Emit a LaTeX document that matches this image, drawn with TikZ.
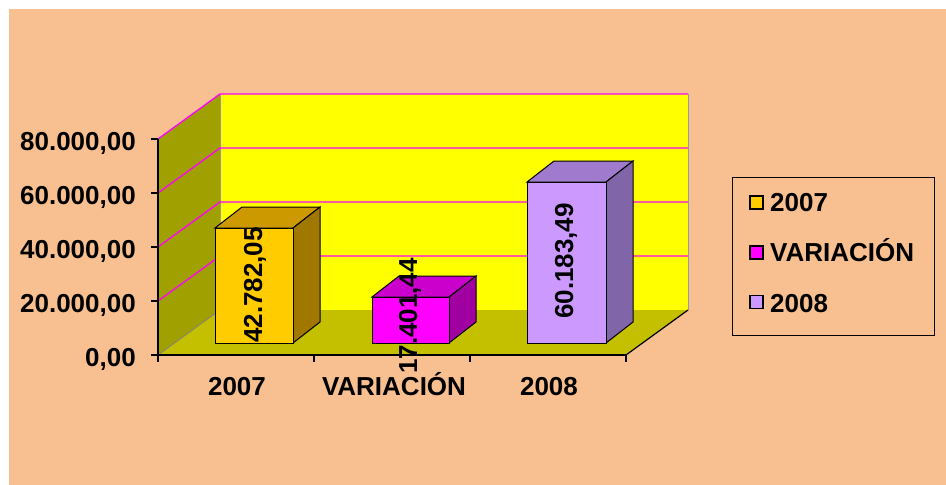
\documentclass[tikz,border=0pt]{standalone}
\usepackage{fontspec}
\setmainfont{Liberation Sans}
\definecolor{bgc}{HTML}{F8C090}
\definecolor{wallc}{HTML}{A0A000}
\definecolor{floorc}{HTML}{C4C000}
\definecolor{gridc}{HTML}{FF00FF}
\definecolor{yel}{HTML}{FFFF00}
\definecolor{aF}{HTML}{FFCC00}\definecolor{aT}{HTML}{CC9900}\definecolor{aS}{HTML}{A07800}
\definecolor{bF}{HTML}{FF00FF}\definecolor{bT}{HTML}{CC00CC}\definecolor{bS}{HTML}{A000A0}
\definecolor{cF}{HTML}{CC99FF}\definecolor{cT}{HTML}{A07ACC}\definecolor{cS}{HTML}{8066A8}
\newcommand\cubebar[6]{% x1 x2 ytop front top side
  \fill[#5,draw=black,line width=1pt] (#1+27,#3-21) -- (#2+27,#3-21) -- (#2,#3) -- (#1,#3) -- cycle;
  \fill[#6,draw=black,line width=1pt] (#2,#3) -- (#2+27,#3-21) -- (#2+27,322) -- (#2,343) -- cycle;
  \fill[#4,draw=black,line width=1pt] (#1,#3) rectangle (#2,343);
}
\tikzset{
  lbl/.style={font=\fontsize{26}{30}\selectfont\bfseries, inner sep=0pt},
  grid/.style={gridc, line width=1.3pt},
  ax/.style={black, line width=1.2pt},
}
\begin{document}
\begin{tikzpicture}[x=1pt,y=-1pt]
\useasboundingbox (0,0) rectangle (946,485);
\fill[bgc] (9,9) rectangle (946,485);
% back wall
\fill[yel] (220,94) rectangle (688,310);
\draw[gray!80, line width=1pt] (688,94) -- (688,310);
% left wall
\fill[wallc] (158,139) -- (220,94) -- (220,310) -- (158,355) -- cycle;
\draw[gray!80, line width=1pt] (220,94) -- (220,310);
% floor
\fill[floorc] (158,355) -- (220,310) -- (688,310) -- (626,355) -- cycle;
\draw[gray, line width=0.8pt] (158,355) -- (220,310);
\draw[ax] (626,355) -- (688,310);
% gridlines
\foreach \k in {0,1,2,3}{
  \draw[grid] (158,139+54*\k) -- (220,94+54*\k) -- (688,94+54*\k);
}
% axes
\draw[ax] (158,139) -- (158,355) -- (626,355);
\foreach \k in {0,...,4}{ \draw[ax] (151,139+54*\k) -- (158,139+54*\k); }
\foreach \x in {158,314,470,626}{ \draw[ax] (\x,355) -- (\x,362); }
% tick labels
\node[lbl, anchor=base east] (t80) at (136,150) {80.000,00};
\node[lbl, anchor=base east] (t60) at (136,204) {60.000,00};
\node[lbl, anchor=base east] (t40) at (136,258) {40.000,00};
\node[lbl, anchor=base east] (t20) at (136,312) {20.000,00};
\node[lbl, anchor=base east] (t0) at (136,366) {0,00};
% category labels
\node[lbl, anchor=base] (c1) at (237,395) {2007};
\node[lbl, anchor=base] (c2) at (394,395) {VARIACIÓN};
\node[lbl, anchor=base] (c3) at (549,395) {2008};
% bars
\cubebar{215}{293}{228}{aF}{aT}{aS}
\cubebar{372}{449}{297}{bF}{bT}{bS}
\cubebar{527}{606}{182}{cF}{cT}{cS}
\node[lbl, rotate=90] (v1) at (255,285) {42.782,05};
\node[lbl, rotate=90] (v2) at (410,316) {17.401,44};
\node[lbl, rotate=90] (v3) at (566,261) {60.183,49};
% legend
\draw[black, line width=0.8pt] (732,177) rectangle (934,335);
\tikzset{lsq/.style={draw=black, line width=1.3pt, minimum size=13pt, inner sep=0pt}}
\node[lsq, fill=aF] (s1) at (756.5,202.5) {};
\node[lsq, fill=bF] (s2) at (756.5,252.5) {};
\node[lsq, fill=cF] (s3) at (756.5,302) {};
\node[lbl, anchor=base west] (l1) at (770,211) {2007};
\node[lbl, anchor=base west] (l2) at (770,261) {VARIACIÓN};
\node[lbl, anchor=base west] (l3) at (770,312) {2008};
\end{tikzpicture}
\end{document}
